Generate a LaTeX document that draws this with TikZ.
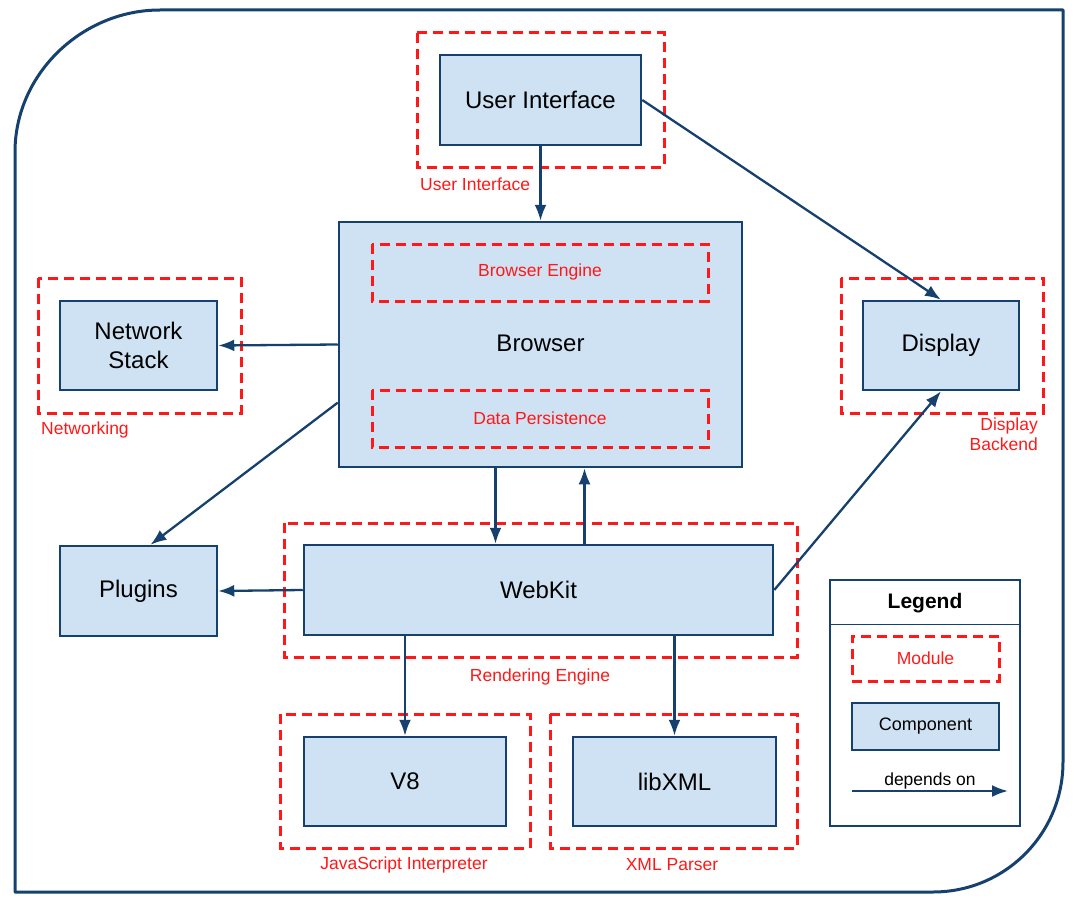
\documentclass[tikz,border=0pt]{standalone}
\usepackage{fontspec}
\setmainfont{Liberation Sans}
\usetikzlibrary{arrows.meta}
\definecolor{compfill}{RGB}{207,226,243}
\definecolor{compline}{RGB}{22,64,110}
\definecolor{modred}{RGB}{255,24,24}

\begin{document}
\begin{tikzpicture}[x=1pt,y=-1pt,
	comp/.style={draw=compline,line width=2.5pt,fill=compfill,inner sep=0pt,align=center,font=\fontsize{24}{29}\selectfont},
	module/.style={draw=modred,line width=3pt,dash pattern=on 10pt off 6pt},
	modlabel/.style={text=modred,inner sep=0pt,font=\fontsize{17.5}{20}\selectfont},
	dep/.style={draw=compline,line width=2.3pt,-{Latex[length=16pt,width=12pt]}}]
	\useasboundingbox (0,0) rectangle (1080,899);
	% outer frame
	\draw[compline,line width=3pt,line join=round] (15,152) .. controls (15,74) and (82,10) .. (160,10)
		-- (1063,10) -- (1063,762) .. controls (1063,834) and (1005,892) .. (933,892) -- (15,892) -- cycle;
	% components
	\node (ui)      [comp, minimum width=201pt, minimum height=90pt]  at (540.5,100)   {User Interface};
	\node (browser) [comp, minimum width=403pt, minimum height=245pt] at (540.5,344.5) {};
	\node (net)     [comp, minimum width=157pt, minimum height=89pt]  at (138.5,345.5) {Network\\Stack};
	\node (disp)    [comp, minimum width=156pt, minimum height=89pt]  at (941,345.5)   {Display};
	\node (plug)    [comp, minimum width=157pt, minimum height=90pt]  at (138.5,591)   {Plugins};
	\node (webkit)  [comp, minimum width=469pt, minimum height=90pt]  at (538.5,590)   {WebKit};
	\node (v8)      [comp, minimum width=202pt, minimum height=89pt]  at (405,781.5)   {V8};
	\node (xml)     [comp, minimum width=203pt, minimum height=89pt]  at (674.5,781.5) {libXML};
	\node (browsertxt) [font=\fontsize{24}{29}\selectfont] at (540.5,343) {Browser};
	% modules
	\draw[module] (417,33) rectangle (664,167);
	\draw[module] (372,244) rectangle (708,301);
	\draw[module] (372,390) rectangle (708,447);
	\draw[module] (38,278) rectangle (241,413);
	\draw[module] (841,278) rectangle (1043,413);
	\draw[module] (284,523) rectangle (797,657);
	\draw[module] (280,714) rectangle (530,848);
	\draw[module] (550,714) rectangle (797,848);
	\node (uimod)  [modlabel, anchor=west] at (420,184) {User Interface};
	\node (engine) [modlabel] at (540,272) {Browser Engine};
	\node (persist)[modlabel] at (540,418) {Data Persistence};
	\node (netmod) [modlabel, anchor=west] at (41,430) {Networking};
	\node (dispmod)[modlabel, anchor=east, align=right] at (1038,434) {Display\\Backend};
	\node (render) [modlabel] at (540,677) {Rendering Engine};
	\node (jsmod)  [modlabel] at (404,865) {JavaScript Interpreter};
	\node (xmlmod) [modlabel] at (672,865) {XML Parser};
	% dependencies
	\draw[dep] (ui) -- (browser);
	\draw[dep] (ui.east) -- (disp.north);
	\draw[dep] (browser.west) -- (net.east);
	\draw[dep] (browser.196) -- ([xshift=12pt]plug.north);
	\draw[dep] ([xshift=-45pt]browser.south) -- ([xshift=-45pt]browser.south |- webkit.north);
	\draw[dep] ([xshift=44pt]browser.south |- webkit.north) -- ([xshift=44pt]browser.south);
	\draw[dep] (webkit.west) -- (plug.east);
	\draw[dep] (webkit.east) -- (disp.south);
	\draw[dep] (v8.north |- webkit.south) -- (v8.north);
	\draw[dep] (xml.north |- webkit.south) -- (xml.north);
	% legend
	\draw[compline,line width=1.5pt] (830,580) rectangle (1020,826);
	\draw[compline,line width=1pt] (830,624) -- (1020,624);
	\node (legtitle) [font=\bfseries\fontsize{21}{24}\selectfont] at (925,603) {Legend};
	\node (legmod)  [module, modlabel, minimum width=147pt, minimum height=45pt] at (925.5,658.5) {Module};
	\node (legcomp) [comp, font=\fontsize{18}{21}\selectfont, minimum width=147pt, minimum height=47pt] at (925.5,726.5) {Component};
	\coordinate (depfrom) at (852,791);
	\coordinate (depto) at (1008,791);
	\draw[dep] (depfrom) -- node[above=1pt, inner sep=0pt, font=\fontsize{17.5}{20}\selectfont] (deplabel) {depends on} (depto);
\end{tikzpicture}
\end{document}
